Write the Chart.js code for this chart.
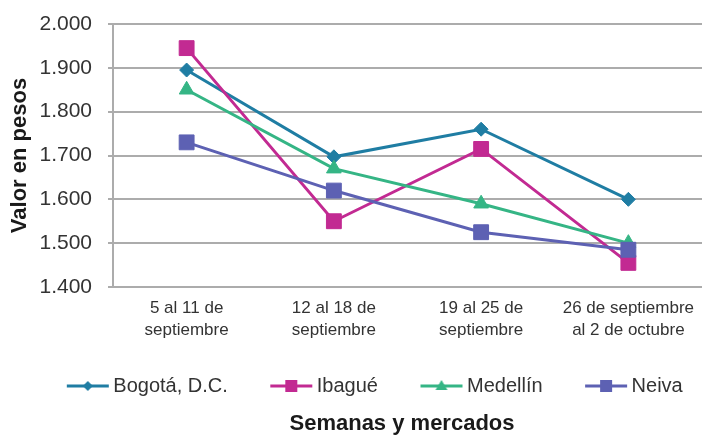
<!DOCTYPE html>
<html>
<head>
<meta charset="utf-8">
<script src="https://cdn.jsdelivr.net/npm/chart.js@4"></script>
<style>
  body { margin: 0; background: #fff; }
  #wrap { width: 702px; height: 435px; }
</style>
</head>
<body>
<div id="wrap"><canvas id="myChart" width="702" height="435"></canvas></div>
<script>
var weeks = [
  ['5 al 11 de', 'septiembre'],
  ['12 al 18 de', 'septiembre'],
  ['19 al 25 de', 'septiembre'],
  ['26 de septiembre', 'al 2 de octubre']
];
var seriesNames = ['Bogotá, D.C.', 'Ibagué', 'Medellín', 'Neiva'];
var bogota = [1895, 1697, 1760, 1600];
var ibague = [1945, 1550, 1715, 1455];
var medellin = [1850, 1670, 1590, 1500];
var neiva = [1730, 1620, 1525, 1485];
var yTickLabels = ['1.400', '1.500', '1.600', '1.700', '1.800', '1.900', '2.000'];

var colors = ['#1f7da3', '#c22a92', '#35b585', '#5d61b3'];
var styles = ['rectRot', 'rect', 'triangle', 'rect'];
var radii = [7, 10.5, 8.5, 10.5];

// legend icons: line with the marker in the middle, shifted right so it sits close to the text
function makeIcon(color, style) {
  var c = document.createElement('canvas');
  c.width = 57; c.height = 16;
  var g = c.getContext('2d');
  g.strokeStyle = color;
  g.fillStyle = color;
  g.lineWidth = 3;
  g.beginPath();
  g.moveTo(14, 8); g.lineTo(56, 8);
  g.stroke();
  var cx = 35, cy = 8;
  g.beginPath();
  if (style === 'rectRot') {
    g.moveTo(cx, cy - 5); g.lineTo(cx + 5, cy); g.lineTo(cx, cy + 5); g.lineTo(cx - 5, cy);
  } else if (style === 'triangle') {
    g.moveTo(cx, cy - 6); g.lineTo(cx + 6, cy + 4); g.lineTo(cx - 6, cy + 4);
  } else {
    g.rect(cx - 6, cy - 6, 12, 12);
  }
  g.closePath();
  g.fill();
  return c;
}
var icons = colors.map(function (col, i) { return makeIcon(col, styles[i]); });

var values = [bogota, ibague, medellin, neiva];
var datasets = values.map(function (v, i) {
  return {
    label: seriesNames[i],
    data: v,
    borderColor: colors[i],
    backgroundColor: colors[i],
    borderWidth: 3,
    pointStyle: styles[i],
    pointRadius: radii[i],
    pointHoverRadius: radii[i],
    pointBorderWidth: 1,
    pointBackgroundColor: colors[i],
    pointBorderColor: colors[i],
    tension: 0,
    order: 4 - i
  };
});

var gridColor = '#acacac';

// nudge legend and bottom title to the right, like the original
var blockShift = {
  id: 'blockShift',
  afterLayout: function (chart) {
    if (chart.legend) chart.legend.right += 32;
    if (chart.titleBlock) chart.titleBlock.left += 94;
  }
};

new Chart('myChart', {
  type: 'line',
  data: { labels: weeks, datasets: datasets },
  plugins: [blockShift],
  options: {
    responsive: false,
    animation: false,
    devicePixelRatio: 1,
    layout: { autoPadding: false, padding: { left: 5, right: -3, top: 24, bottom: 0 } },
    plugins: {
      tooltip: { enabled: false },
      legend: {
        position: 'bottom',
        labels: {
          usePointStyle: true,
          pointStyleWidth: 44,
          padding: 35,
          color: '#333',
          font: { family: 'Liberation Sans', size: 20 },
          sort: function (a, b) { return a.datasetIndex - b.datasetIndex; },
          generateLabels: function (chart) {
            var items = Chart.defaults.plugins.legend.labels.generateLabels(chart);
            items.forEach(function (it) {
              it.pointStyle = icons[it.datasetIndex];
              it.rotation = 0;
            });
            return items;
          }
        }
      },
      title: {
        display: true,
        position: 'bottom',
        text: 'Semanas y mercados',
        color: '#1a1a1a',
        font: { family: 'Liberation Sans', size: 22, weight: 'bold', lineHeight: 1 },
        padding: { top: 7, bottom: 0 }
      }
    },
    scales: {
      x: {
        offset: true,
        grid: { display: false, drawTicks: false },
        border: { display: true, color: gridColor, width: 2 },
        ticks: {
          color: '#333',
          padding: 11,
          maxRotation: 0,
          autoSkip: false,
          font: { family: 'Liberation Sans', size: 17, lineHeight: 1.25 }
        },
        afterFit: function (s) {
          s.height = 54;
          s.paddingLeft = 0;
          s.paddingRight = 0;
        }
      },
      y: {
        min: 1400,
        max: 2000,
        grid: { color: gridColor, lineWidth: 2, tickLength: 5 },
        border: { display: true, color: gridColor, width: 2 },
        ticks: {
          stepSize: 100,
          padding: 16,
          color: '#333',
          font: { family: 'Liberation Sans', size: 21 },
          callback: function (value, index) { return yTickLabels[index]; }
        },
        title: {
          display: true,
          text: 'Valor en pesos',
          color: '#1a1a1a',
          padding: 2,
          font: { family: 'Liberation Sans', size: 22, weight: 'bold' }
        },
        afterFit: function (s) {
          s.width = 108;
          s.paddingTop = 0;
          s.paddingBottom = 0;
        }
      }
    }
  }
});
</script>
</body>
</html>
